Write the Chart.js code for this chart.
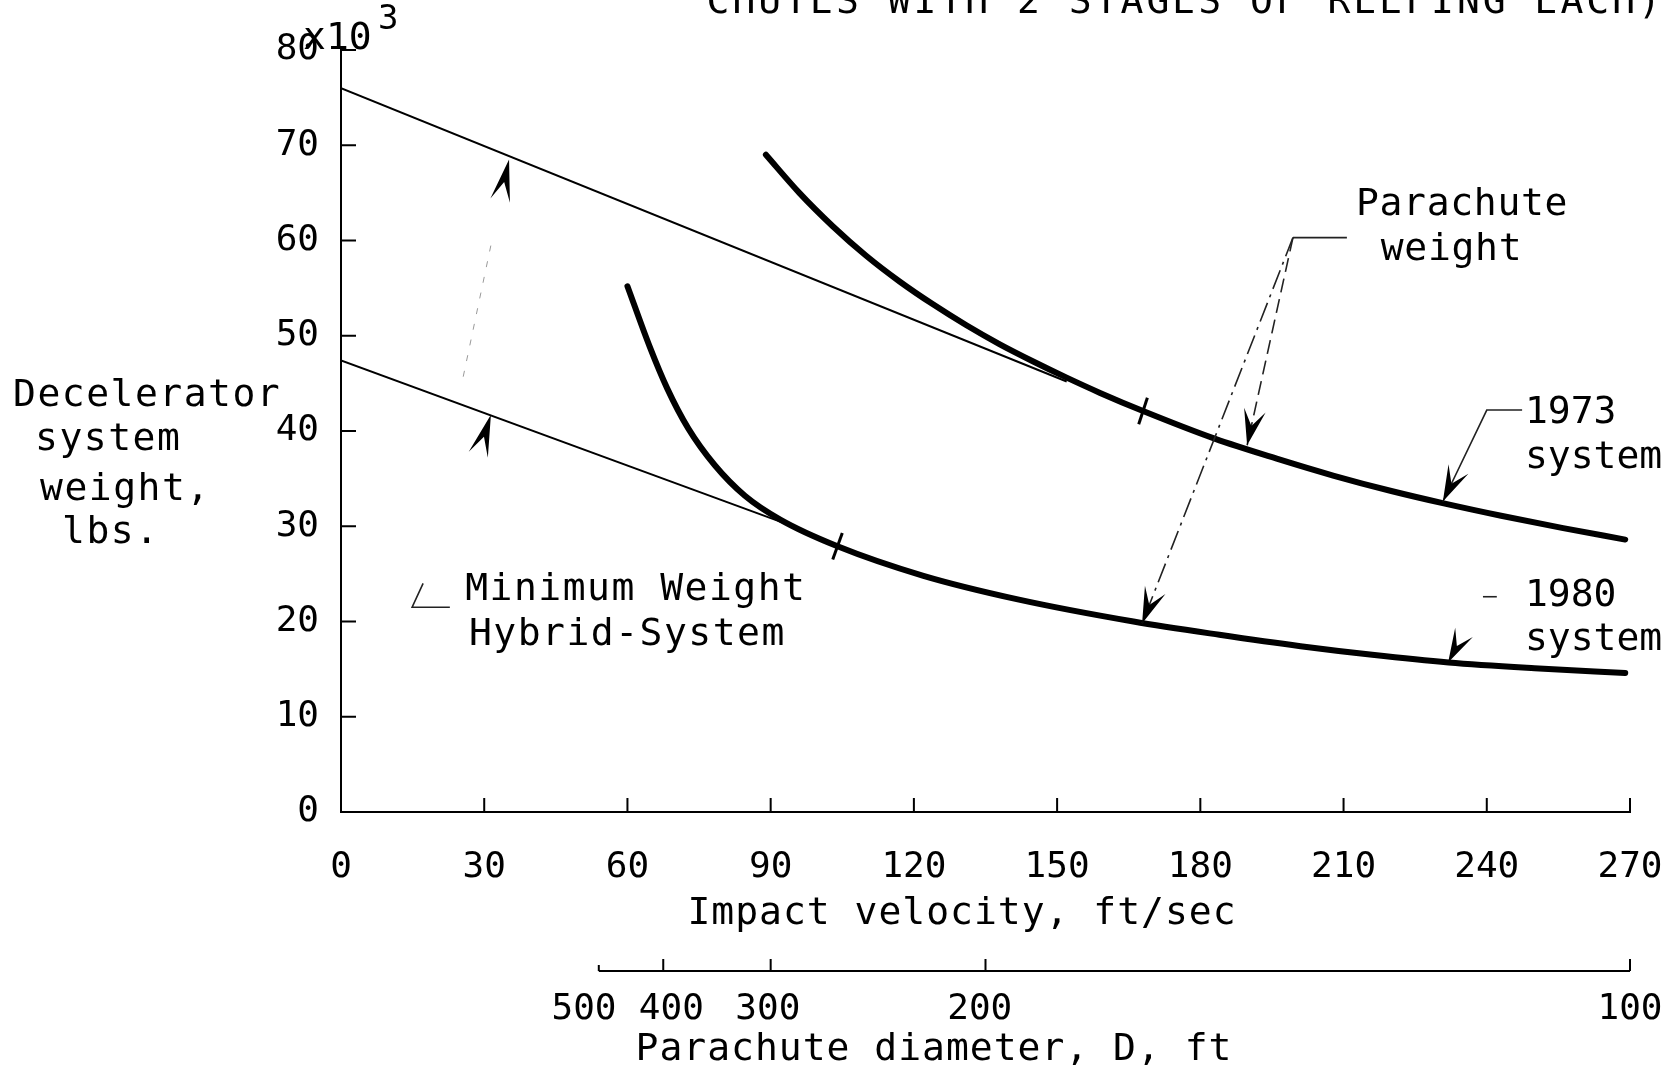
<!DOCTYPE html>
<html>
<head>
<meta charset="utf-8">
<script src="https://cdn.jsdelivr.net/npm/chart.js@4.4.1/dist/chart.umd.min.js"></script>
<style>
  html, body { margin: 0; padding: 0; background: #fff; }
  canvas { display: block; }
</style>
</head>
<body>
<canvas id="chart" width="1670" height="1072"></canvas>
<script>
// axis ticks
const velocityTicks = [0, 30, 60, 90, 120, 150, 180, 210, 240, 270];
const weightTicks = [0, 10, 20, 30, 40, 50, 60, 70, 80];
const diameterLabels = [500, 400, 300, 200, 100];
const diameterAtVelocity = [54, 67.5, 90, 135, 270];
const diameterLabelAt = [50.9, 69.2, 89.4, 133.8, 270];

// 1973 system (velocity ft/sec, weight x10^3 lbs)
const v1973 = [89, 96, 103, 110, 117, 124, 131, 138, 145, 152, 159, 168, 183, 196, 208, 220, 231, 243, 256, 269];
const w1973 = [69.0, 65.0, 61.5, 58.4, 55.7, 53.3, 51.1, 49.1, 47.3, 45.6, 44.0, 42.1, 39.2, 37.1, 35.3, 33.7, 32.4, 31.1, 29.8, 28.6];

// 1980 system
const v1980 = [60, 64.7, 68.3, 72.7, 78.3, 84.6, 92, 104, 122, 142, 166, 184, 201, 216, 232, 250, 269];
const w1980 = [55.2, 48.8, 44.5, 40.3, 36.4, 33.2, 30.7, 27.9, 24.8, 22.3, 20.0, 18.6, 17.4, 16.5, 15.7, 15.1, 14.6];

// minimum weight hybrid system lines
const hybridUpperV = [0, 152];
const hybridUpperW = [76.0, 45.2];
const hybridLowerV = [0, 93];
const hybridLowerW = [47.4, 30.3];

// small cross marks on the curves
const markV = [168, 104];
const markW = [42.1, 27.9];

const FONT = '"DejaVu Sans Mono", "Liberation Mono", monospace';

function pts(xs, ys) {
  return xs.map((x, i) => ({ x: x, y: ys[i] }));
}

function arrowHead(ctx, fx, fy, tx, ty, len, half) {
  const a = Math.atan2(ty - fy, tx - fx);
  ctx.save();
  ctx.translate(tx, ty);
  ctx.rotate(a);
  ctx.beginPath();
  ctx.moveTo(0, 0);
  ctx.lineTo(-len, -half);
  ctx.lineTo(-len * 0.55, 0);
  ctx.lineTo(-len, half);
  ctx.closePath();
  ctx.fill();
  ctx.restore();
}

// bottom axes: no extra side padding for the end labels
function fixBottom(h) {
  return function (scale) {
    scale.height = h;
    scale.paddingLeft = 0;
    scale.paddingRight = 0;
  };
}

const decor = {
  id: 'decor',
  afterDraw(chart) {
    const ctx = chart.ctx;
    const xs = chart.scales.x, ys = chart.scales.y, x2 = chart.scales.x2;
    const px = v => xs.getPixelForValue(v);
    const py = v => ys.getPixelForValue(v);
    const area = chart.chartArea;

    ctx.save();
    ctx.strokeStyle = '#000';
    ctx.fillStyle = '#000';
    ctx.lineWidth = 2;

    // inner ticks
    ctx.beginPath();
    velocityTicks.slice(1).forEach(v => {
      ctx.moveTo(px(v), area.bottom);
      ctx.lineTo(px(v), area.bottom - 14);
    });
    weightTicks.slice(1).forEach(w => {
      ctx.moveTo(area.left, py(w));
      ctx.lineTo(area.left + 15, py(w));
    });
    ctx.stroke();

    // parachute diameter axis
    const yb = x2.top;
    ctx.beginPath();
    ctx.moveTo(px(diameterAtVelocity[0]), yb);
    ctx.lineTo(px(diameterAtVelocity[diameterAtVelocity.length - 1]), yb);
    diameterAtVelocity.forEach((v, i) => {
      ctx.moveTo(px(v), yb);
      ctx.lineTo(px(v), yb - (i === 0 ? 6 : 12));
    });
    ctx.stroke();

    // leader lines
    ctx.lineWidth = 1.6;
    ctx.strokeStyle = '#222';
    // Parachute weight
    ctx.beginPath();
    ctx.moveTo(px(199.4), py(60.3));
    ctx.lineTo(px(210.7), py(60.3));
    ctx.stroke();
    ctx.setLineDash([14, 7]);
    ctx.beginPath();
    ctx.moveTo(px(199.4), py(60.3));
    ctx.lineTo(px(189.8), py(38.5));
    ctx.stroke();
    ctx.setLineDash([20, 6, 3, 6]);
    ctx.beginPath();
    ctx.moveTo(px(199.4), py(60.3));
    ctx.lineTo(px(167.8), py(19.8));
    ctx.stroke();
    ctx.setLineDash([]);
    arrowHead(ctx, px(199.4), py(60.3), px(189.8), py(38.5), 36, 11);
    arrowHead(ctx, px(199.4), py(60.3), px(167.8), py(19.8), 36, 11);

    // 1973 system
    ctx.beginPath();
    ctx.moveTo(px(247.4), py(42.2));
    ctx.lineTo(px(240.0), py(42.2));
    ctx.lineTo(px(230.8), py(32.6));
    ctx.stroke();
    arrowHead(ctx, px(240.0), py(42.2), px(230.8), py(32.6), 36, 11);

    // 1980 system
    ctx.beginPath();
    ctx.moveTo(px(239.2), py(22.6));
    ctx.lineTo(px(242.1), py(22.6));
    ctx.stroke();
    arrowHead(ctx, px(239.2), py(22.6), px(231.9), py(15.7), 34, 10);

    // Minimum weight hybrid system
    ctx.beginPath();
    ctx.moveTo(px(22.8), py(21.5));
    ctx.lineTo(px(14.9), py(21.5));
    ctx.lineTo(px(17.2), py(24.0));
    ctx.stroke();
    ctx.strokeStyle = '#999';
    ctx.lineWidth = 1;
    ctx.setLineDash([6, 10]);
    ctx.beginPath();
    ctx.moveTo(px(25.6), py(45.7));
    ctx.lineTo(px(31.4), py(59.5));
    ctx.stroke();
    ctx.setLineDash([]);
    arrowHead(ctx, px(28.7), py(37.4), px(31.4), py(41.7), 42, 10);
    arrowHead(ctx, px(33.3), py(64.1), px(35.2), py(68.5), 42, 10);

    // annotation texts
    ctx.font = '38px ' + FONT;
    ctx.textAlign = 'left';
    ctx.textBaseline = 'middle';
    const notes = [
      ['Parachute', 212.6, 63.7, '0.7px'], ['weight', 217.8, 59.0, '0.7px'],
      ['1973', 248.0, 41.9, '0px'], ['system', 248.0, 37.2, '0px'],
      ['1980', 248.0, 22.7, '0px'], ['system', 248.0, 18.0, '0px'],
      ['Minimum Weight', 26.0, 23.3, '1.5px'], ['Hybrid-System', 26.8, 18.6, '1.5px']
    ];
    notes.forEach(n => {
      ctx.letterSpacing = n[3];
      ctx.fillText(n[0], px(n[1]), py(n[2]));
    });

    // y axis title
    ctx.letterSpacing = '1.5px';
    const yTitle = [['Decelerator', 13, 396], ['system', 35, 440], ['weight,', 40, 490], ['lbs.', 62, 533]];
    yTitle.forEach(t => ctx.fillText(t[0], t[1], t[2]));

    // x axis titles
    ctx.textAlign = 'center';
    ctx.letterSpacing = '1px';
    ctx.fillText('Impact velocity, ft/sec', 962, 914);
    ctx.fillText('Parachute diameter, D, ft', 934, 1050);

    // multiplier
    ctx.textAlign = 'left';
    ctx.letterSpacing = '0px';
    ctx.fillText('x10', 303, 39);
    ctx.font = '34px ' + FONT;
    ctx.fillText('3', 378, 20);

    // clipped heading at the top
    ctx.font = '38px ' + FONT;
    ctx.letterSpacing = '3px';
    ctx.textAlign = 'right';
    ctx.textBaseline = 'alphabetic';
    ctx.fillText('CHUTES WITH 2 STAGES OF REEFING EACH)', 1664, 13);
    ctx.restore();
  }
};

const tickFont = { family: FONT, size: 36 };

new Chart(document.getElementById('chart'), {
  type: 'scatter',
  data: {
    datasets: [
      {
        label: '1973 system',
        data: pts(v1973, w1973),
        showLine: true,
        borderColor: '#000',
        borderWidth: 6,
        cubicInterpolationMode: 'monotone',
        pointRadius: 0,
        borderCapStyle: 'round'
      },
      {
        label: '1980 system',
        data: pts(v1980, w1980),
        showLine: true,
        borderColor: '#000',
        borderWidth: 6,
        cubicInterpolationMode: 'monotone',
        pointRadius: 0,
        borderCapStyle: 'round'
      },
      {
        label: 'Minimum Weight Hybrid-System (1973)',
        data: pts(hybridUpperV, hybridUpperW),
        showLine: true,
        borderColor: '#000',
        borderWidth: 2,
        pointRadius: 0
      },
      {
        label: 'Minimum Weight Hybrid-System (1980)',
        data: pts(hybridLowerV, hybridLowerW),
        showLine: true,
        borderColor: '#000',
        borderWidth: 2,
        pointRadius: 0
      },
      {
        label: 'marks',
        data: pts(markV, markW),
        showLine: false,
        pointStyle: 'line',
        pointRadius: 14,
        pointHoverRadius: 14,
        pointRotation: [108, 110],
        borderColor: '#000',
        pointBorderWidth: 3
      }
    ]
  },
  options: {
    responsive: false,
    animation: false,
    devicePixelRatio: 1,
    layout: { autoPadding: false, padding: { top: 50, right: 40, left: 0, bottom: 0 } },
    plugins: {
      legend: { display: false },
      tooltip: { enabled: false }
    },
    scales: {
      x: {
        type: 'linear',
        position: 'bottom',
        min: 0,
        max: 270,
        grid: { display: false },
        border: { display: true, color: '#000', width: 2 },
        ticks: { stepSize: 30, color: '#000', font: tickFont, padding: 26, maxRotation: 0 },
        afterFit: fixBottom(159)
      },
      x2: {
        type: 'linear',
        position: 'bottom',
        min: 0,
        max: 270,
        grid: { display: false },
        border: { display: false },
        afterBuildTicks(scale) {
          scale.ticks = diameterLabelAt.map(v => ({ value: v }));
        },
        ticks: {
          color: '#000',
          font: tickFont,
          padding: 9,
          autoSkip: false,
          maxRotation: 0,
          callback: (value, index) => String(diameterLabels[index])
        },
        afterFit: fixBottom(101)
      },
      y: {
        type: 'linear',
        min: 0,
        max: 80,
        grid: { display: false },
        border: { display: true, color: '#000', width: 2 },
        ticks: { stepSize: 10, color: '#000', font: tickFont, padding: 14 },
        afterFit(scale) { scale.width = 341; }
      }
    }
  },
  plugins: [decor]
});
</script>
</body>
</html>
